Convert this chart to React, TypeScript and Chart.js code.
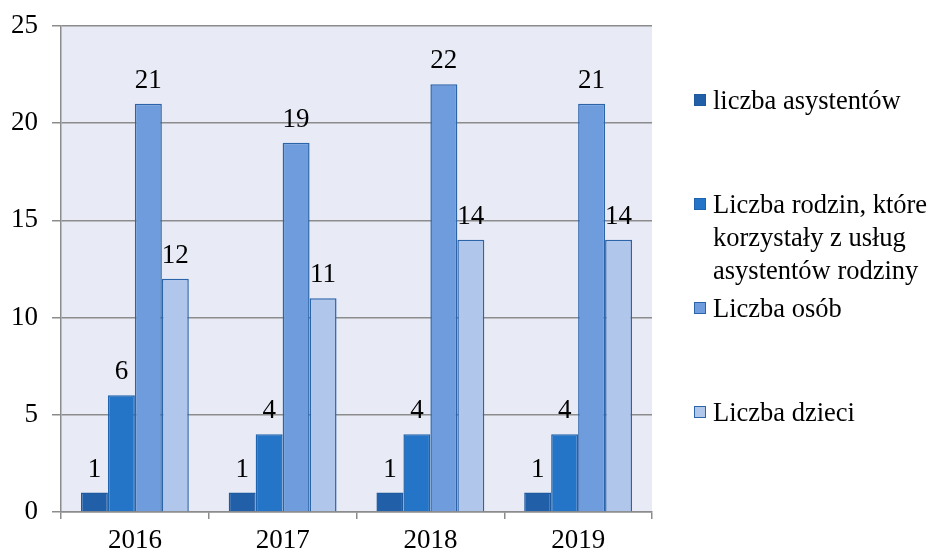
import React, { useEffect, useRef } from "react";
import { Chart, registerables } from "chart.js";

Chart.register(...registerables);

const categories = ["2016", "2017", "2018", "2019"];
const seriesNames = [
  ["liczba asystentów"],
  ["Liczba rodzin, które", "korzystały z usług", "asystentów rodziny"],
  ["Liczba osób"],
  ["Liczba dzieci"],
];
const asystenci = [1, 1, 1, 1];
const rodziny = [6, 4, 4, 4];
const osoby = [21, 19, 22, 21];
const dzieci = [12, 11, 14, 14];
const yTicks = [0, 5, 10, 15, 20, 25];

const fills = ["#2160A8", "#2474C8", "#6E9CDD", "#B1C6EB"];
const borders = ["#1F5A9E", "#1F64AE", "#2C64AA", "#2C64AA"];
const FONT = "'Liberation Serif', 'Times New Roman', serif";
const legendY = [100, 204, 308, 412];

const bgPlugin = {
  id: "bg",
  beforeDraw(chart: any) {
    const { ctx, chartArea } = chart;
    ctx.save();
    ctx.fillStyle = "#E8EBF6";
    ctx.fillRect(chartArea.left, chartArea.top, chartArea.right - chartArea.left, chartArea.bottom - chartArea.top);
    ctx.restore();
  },
};

const labelPlugin = {
  id: "labels",
  afterDatasetsDraw(chart: any) {
    const { ctx } = chart;
    ctx.save();
    ctx.font = `27px ${FONT}`;
    ctx.fillStyle = "#000";
    ctx.textAlign = "center";
    ctx.textBaseline = "alphabetic";
    chart.data.datasets.forEach((ds: any, i: number) => {
      const meta = chart.getDatasetMeta(i);
      meta.data.forEach((bar: any, j: number) => {
        ctx.fillText(String(ds.data[j]), bar.x, bar.y - 16);
      });
    });
    ctx.restore();
  },
};

const legendPlugin = {
  id: "customLegend",
  afterDraw(chart: any) {
    const { ctx } = chart;
    ctx.save();
    ctx.font = `26.5px ${FONT}`;
    ctx.textBaseline = "alphabetic";
    ctx.textAlign = "left";
    seriesNames.forEach((lines, i) => {
      const y = legendY[i];
      ctx.fillStyle = fills[i];
      ctx.fillRect(694, y - 6, 12, 12);
      ctx.strokeStyle = borders[i];
      ctx.lineWidth = 1;
      ctx.strokeRect(694.5, y - 5.5, 11, 11);
      ctx.fillStyle = "#000";
      lines.forEach((t, k) => {
        ctx.fillText(t, 713, y + 9 + k * 33);
      });
    });
    ctx.restore();
  },
};

export default function App() {
  const ref = useRef<HTMLCanvasElement>(null);
  useEffect(() => {
    document.body.style.margin = "0";
    const data = [asystenci, rodziny, osoby, dzieci];
    const chart = new Chart(ref.current!, {
      type: "bar",
      data: {
        labels: categories,
        datasets: data.map((d, i) => ({
          label: seriesNames[i].join(" "),
          data: d,
          backgroundColor: fills[i],
          borderColor: borders[i],
          borderWidth: 1.5,
          categoryPercentage: 0.73,
          barPercentage: 1,
        })),
      },
      options: {
        animation: false,
        responsive: false,
        maintainAspectRatio: false,
        layout: { padding: { left: 0, top: 26, right: 278, bottom: 0 } },
        plugins: { legend: { display: false }, tooltip: { enabled: false } },
        scales: {
          x: {
            grid: { drawOnChartArea: false, offset: true, tickLength: 7, color: "#8C8C8C", lineWidth: 1.5 },
            border: { color: "#8C8C8C", width: 1.5 },
            ticks: { font: { family: FONT, size: 27 }, color: "#000", padding: 6 },
            afterFit(scale: any) {
              scale.height = 40;
              scale.paddingLeft = 0;
              scale.paddingRight = 0;
            },
          },
          y: {
            min: 0,
            max: 25,
            afterBuildTicks(scale: any) { scale.ticks = yTicks.map((v) => ({ value: v })); },
            grid: { color: "#8C8C8C", lineWidth: 1.5, tickLength: 9 },
            border: { color: "#8C8C8C", width: 1.5 },
            ticks: { font: { family: FONT, size: 27 }, color: "#000", padding: 14 },
            afterFit(scale: any) {
              scale.width = 61;
              scale.paddingTop = 0;
              scale.paddingBottom = 0;
            },
          },
        },
      },
      plugins: [bgPlugin, labelPlugin, legendPlugin],
    });
    return () => chart.destroy();
  }, []);
  return (
    <div style={{ width: 930, height: 552, background: "#fff" }}>
      <canvas ref={ref} width={930} height={552} style={{ display: "block" }} />
    </div>
  );
}
